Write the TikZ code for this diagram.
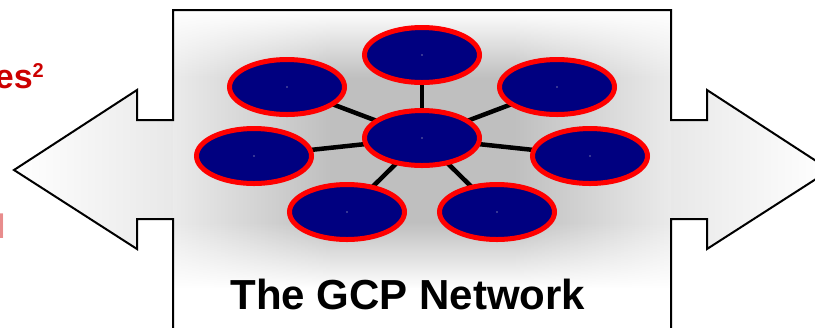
\documentclass[tikz,border=0pt]{standalone}
\usepackage{fontspec}
\setmainfont{Liberation Sans}
\usetikzlibrary{shapes.geometric,fadings}
\definecolor{navy}{RGB}{0,0,128}
\definecolor{hubred}{RGB}{255,0,0}
\definecolor{txtred}{RGB}{204,0,0}
\definecolor{dotcol}{RGB}{110,110,170}
\tikzfading[name=topband, top color=transparent!0, bottom color=transparent!100]
\tikzfading[name=botband, top color=transparent!100, bottom color=transparent!0]
\begin{document}
\begin{tikzpicture}[x=1bp,y=-1bp,
  hub/.style={ellipse, draw=hubred, fill=navy, line width=5bp, minimum width=115bp, minimum height=55bp, inner sep=0pt},
  link/.style={line width=4.5bp, black},
  outline/.style={line width=2bp, line join=miter, draw=black},
  redtext/.style={text=txtred, inner sep=0pt, font=\fontsize{34bp}{40bp}\selectfont\bfseries}]
\useasboundingbox (0,0) rectangle (815,327);
\begin{scope}
\clip (0,0) rectangle (815,327);
% outline vertices
\coordinate (p1) at (173,10);
\coordinate (p2) at (671,10);
\coordinate (p3) at (671,120);
\coordinate (p4) at (707,120);
\coordinate (p5) at (707,90);
\coordinate (p6) at (830,170);
\coordinate (p7) at (707,249);
\coordinate (p8) at (707,219);
\coordinate (p9) at (671,219);
\coordinate (p10) at (671,345);
\coordinate (p11) at (173,345);
\coordinate (p12) at (173,219);
\coordinate (p13) at (137,219);
\coordinate (p14) at (137,249);
\coordinate (p15) at (14,170);
\coordinate (p16) at (137,90);
\coordinate (p17) at (137,120);
\coordinate (p18) at (173,120);
\begin{scope}
\clip (p1) -- (p2) -- (p3) -- (p4) -- (p5) -- (p6) -- (p7) -- (p8) -- (p9) -- (p10) -- (p11) -- (p12) -- (p13) -- (p14) -- (p15) -- (p16) -- (p17) -- (p18) -- cycle;
% arrows
\shade[left color=white, right color=black!9] (14,0) rectangle (174,350);
\shade[left color=black!9, right color=white] (670,0) rectangle (830,350);
% box: horizontal profile
\shade[left color=black!8, right color=black!25] (173,0) rectangle (330.5,350);
\fill[black!25] (330,0) rectangle (515.5,350);
\shade[left color=black!25, right color=black!8] (515,0) rectangle (671,350);
% box: vertical fades to white
\fill[white, path fading=topband] (173,10) rectangle (671,78);
\fill[white, path fading=botband] (173,222) rectangle (671,288);
\fill[white] (173,287.5) rectangle (671,350);
\end{scope}
\draw[outline] (p1) -- (p2) -- (p3) -- (p4) -- (p5) -- (p6) -- (p7) -- (p8) -- (p9) -- (p10) -- (p11) -- (p12) -- (p13) -- (p14) -- (p15) -- (p16) -- (p17) -- (p18) -- cycle;
\end{scope}
% hub positions
\coordinate (cc) at (422,138);
\coordinate (tc) at (422,55);
\coordinate (ulc) at (287,87);
\coordinate (urc) at (557,87);
\coordinate (mlc) at (254,156);
\coordinate (mrc) at (590,156);
\coordinate (llc) at (347,212);
\coordinate (lrc) at (497,212);
% links
\foreach \n in {tc,ulc,urc,mlc,mrc,llc,lrc} {\draw[link] (cc) -- (\n);}
% hubs
\node[hub] (c) at (cc) {};
\node[hub] (t) at (tc) {};
\node[hub] (ul) at (ulc) {};
\node[hub] (ur) at (urc) {};
\node[hub] (ml) at (mlc) {};
\node[hub] (mr) at (mrc) {};
\node[hub] (ll) at (llc) {};
\node[hub] (lr) at (lrc) {};
\foreach \n in {c,t,ul,ur,ml,mr,ll,lr} {\fill[dotcol] (\n.center) circle (0.9);}
% texts
\node[anchor=base, inner sep=0pt, font=\fontsize{42bp}{50bp}\selectfont\bfseries] (title) at (408,309) {The GCP Network};
\node[redtext, anchor=base east] (es) at (44,88) {es\raisebox{11bp}{\fontsize{20bp}{20bp}\selectfont 2}};
\node[redtext, anchor=base west, text=txtred!45] (ell) at (-4.1,238) {l};
\end{tikzpicture}
\end{document}
